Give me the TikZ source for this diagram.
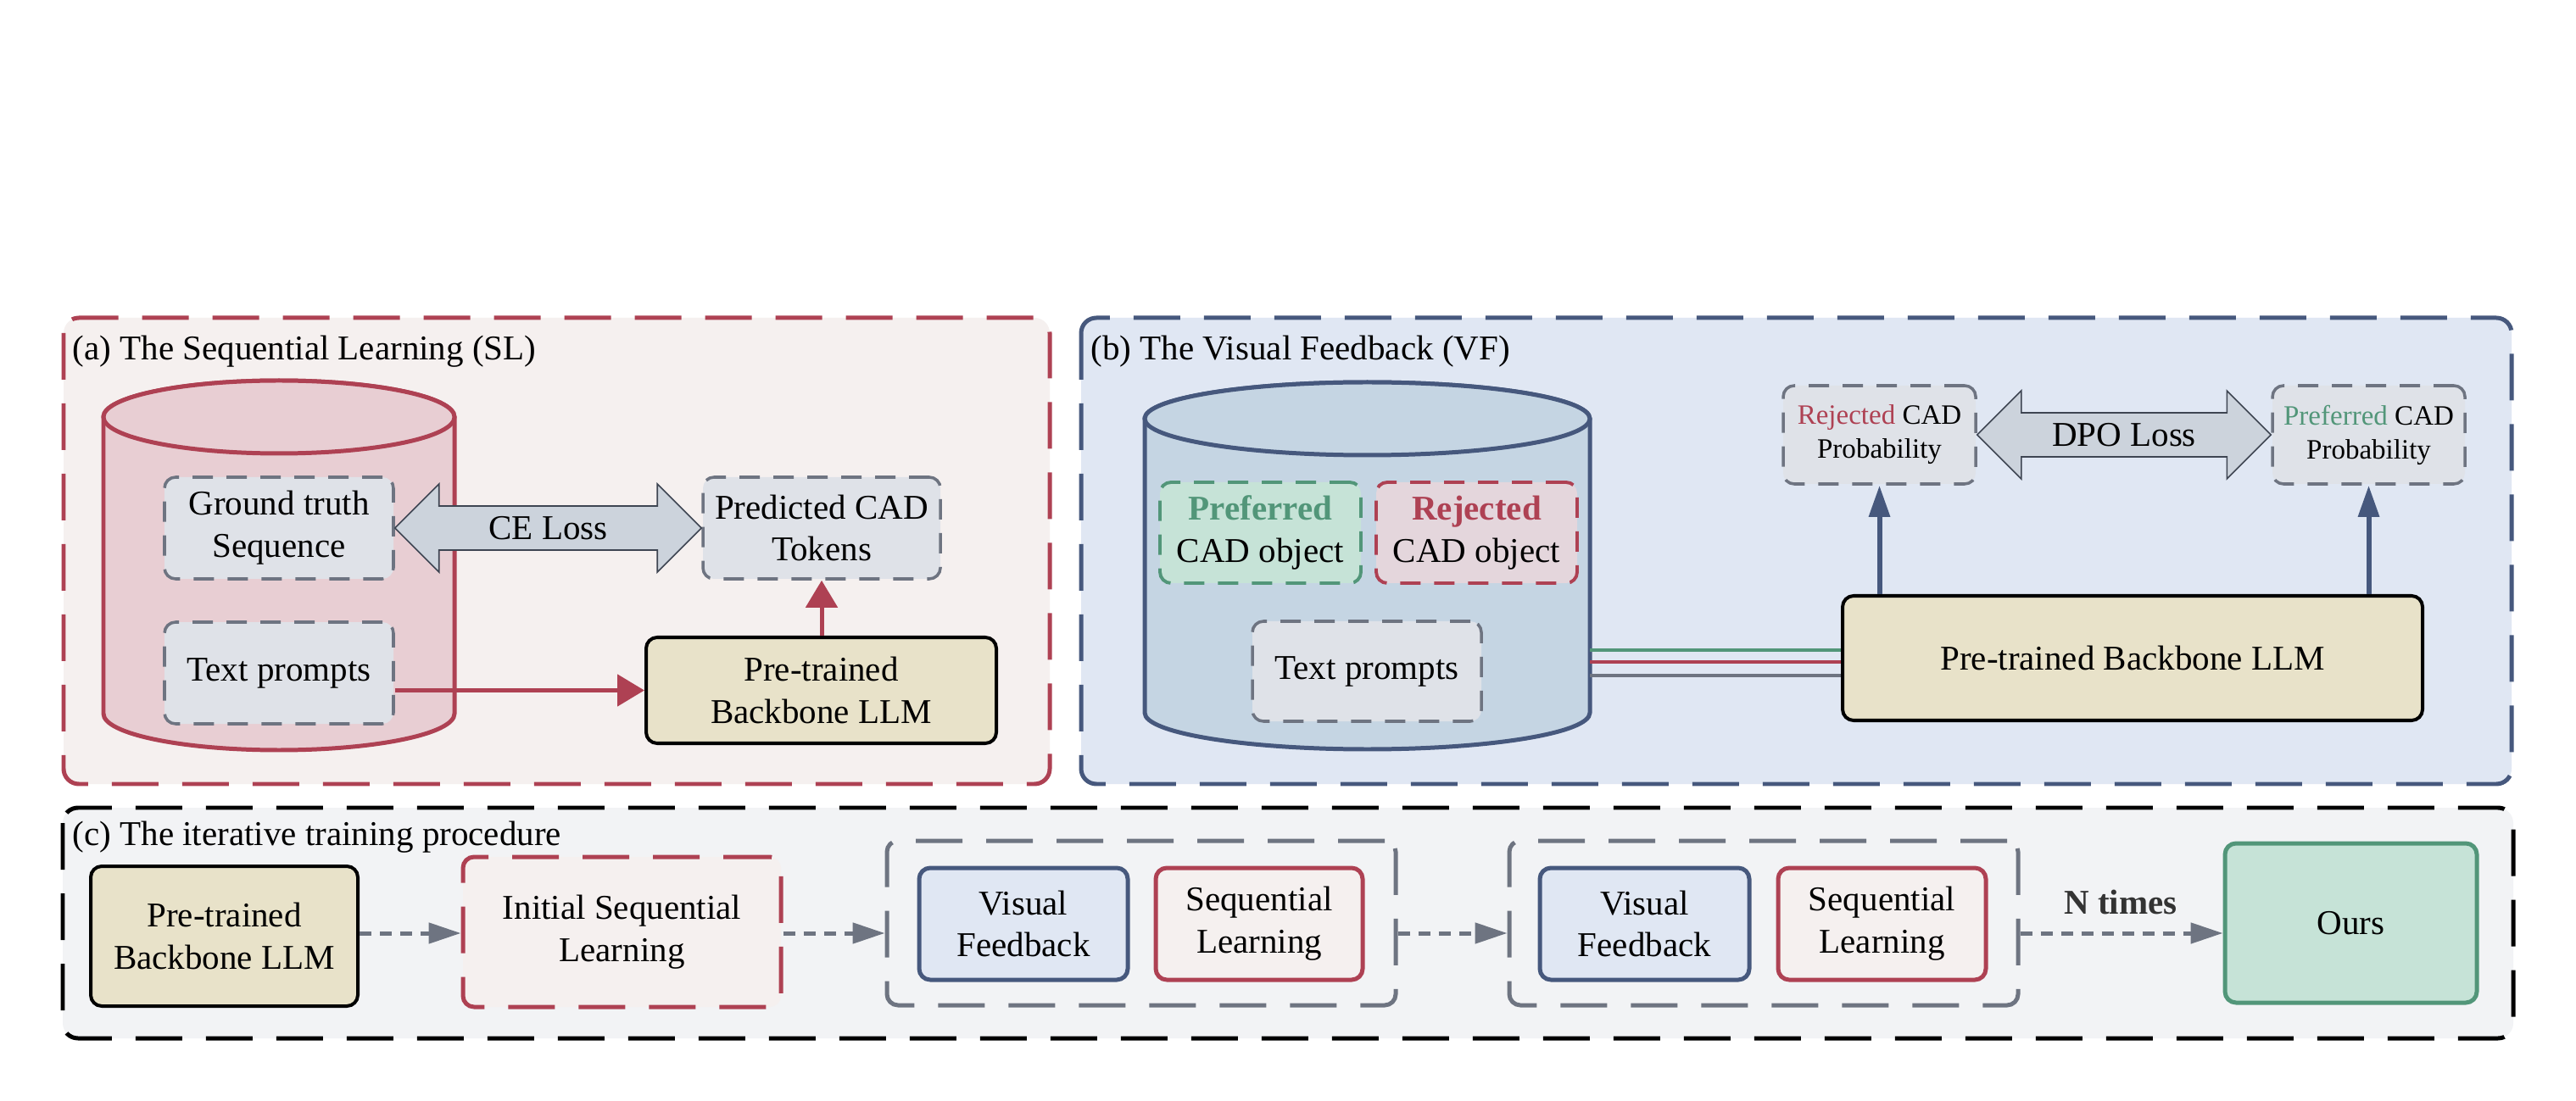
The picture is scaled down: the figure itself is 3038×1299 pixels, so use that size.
\documentclass[tikz,border=0pt]{standalone}
\usepackage{fontspec}
\setmainfont{Liberation Serif}
\usetikzlibrary{arrows.meta,calc}
\definecolor{cred}{HTML}{AE4153}
\definecolor{cgreen}{HTML}{529679}
\definecolor{cblue}{HTML}{46587D}
\definecolor{cgray}{HTML}{6E7481}
\definecolor{cfa}{HTML}{F5F0EF}
\definecolor{ccyla}{HTML}{E8CED3}
\definecolor{cgrayfill}{HTML}{DFE2E8}
\definecolor{cfb}{HTML}{E0E7F3}
\definecolor{ccylb}{HTML}{C5D5E3}
\definecolor{cllm}{HTML}{E8E2C9}
\definecolor{cgreenfill}{HTML}{C6E3D7}
\definecolor{crejfill}{HTML}{E4D6DC}
\definecolor{carrowf}{HTML}{CCD3DC}
\definecolor{carrowd}{HTML}{3E4552}
\definecolor{cfc}{HTML}{F2F3F5}
\definecolor{cntimes}{HTML}{333333}
\newcommand\mainfs{\fontsize{11.67pt}{14.2pt}\selectfont}
\newcommand\smallfs{\fontsize{9.4pt}{11.4pt}\selectfont}
\begin{document}
\begin{tikzpicture}[x=0.1mm,y=0.1mm,
  frame/.style={line width=1.42pt, dash pattern=on 5.5mm off 2.8mm, rounded corners=1.8mm},
  title/.style={anchor=base west, font=\mainfs, inner sep=0pt},
  basebox/.style={align=center, inner sep=0pt, font=\mainfs, rounded corners=1.3mm},
  graybox/.style={basebox, draw=cgray, fill=cgrayfill, line width=1pt, dash pattern=on 2.4mm off 1.6mm},
  greenbox/.style={basebox, draw=cgreen, fill=cgreenfill, line width=1.1pt, dash pattern=on 2.4mm off 1.6mm},
  rejbox/.style={basebox, draw=cred, fill=crejfill, line width=1.1pt, dash pattern=on 2.4mm off 1.6mm},
  llmbox/.style={basebox, draw=black, fill=cllm, line width=1.14pt},
  cyla/.style={draw=cred, fill=ccyla, line width=1.42pt},
  cylb/.style={draw=cblue, fill=ccylb, line width=1.42pt},
  blockarrow/.style={draw=carrowd, fill=carrowf, line width=0.45pt, line join=miter},
  redarrow/.style={draw=cred, line width=1.42pt, -{Triangle[length=3.2mm, width=3.7mm]}},
  bluearrow/.style={draw=cblue, line width=1.7pt, -{Triangle[length=3.7mm, width=2.4mm]}},
  garrow/.style={draw=cgray, line width=1.42pt, dash pattern=on 1.4mm off 1.0mm, -{Triangle[length=3.8mm, width=2.4mm]}},
  vfbox/.style={basebox, draw=cblue, fill=cfb, line width=1.42pt},
  slbox/.style={basebox, draw=cred, fill=cfa, line width=1.42pt},
  groupbox/.style={basebox, draw=cgray, line width=1.42pt, dash pattern=on 5.5mm off 2.8mm},
  connline/.style={line width=1.42pt}
]
\useasboundingbox (0,0) rectangle (3038,-1299);
\fill[white] (0,0) rectangle (3038,-1299);

% ---------- frames ----------
\draw[frame, draw=cred, fill=cfa] (75,-375) rectangle (1238,-925);
\draw[frame, draw=cblue, fill=cfb] (1275,-375) rectangle (2962,-925);
\draw[frame, draw=black, fill=cfc] (74,-953) rectangle (2964,-1225);
\node[title] (ta) at (85,-425) {(a) The Sequential Learning (SL)};
\node[title] (tb) at (1286,-425) {(b) The Visual Feedback (VF)};
\node[title] (tc) at (85,-997) {(c) The iterative training procedure};

% ---------- (a) ----------
\draw[cyla] (122,-492) -- (122,-842) arc[start angle=180, end angle=360, x radius=20.7mm, y radius=4.3mm]
  -- (536,-492) arc[start angle=0, end angle=180, x radius=20.7mm, y radius=4.3mm] -- cycle;
\draw[cyla] (329,-492) ellipse [x radius=20.7mm, y radius=4.3mm];

\node[graybox, minimum width=27mm, minimum height=12mm] (gta) at (329,-623) {Ground truth\\Sequence};
\node[graybox, minimum width=27mm, minimum height=12mm] (tpa) at (329,-794) {Text prompts};
\node[graybox, minimum width=28mm, minimum height=12mm] (pred) at (969,-623) {Predicted CAD\\Tokens};
\node[llmbox, minimum width=41.3mm, minimum height=12.5mm] (llma) at (968.5,-814.5) {Pre-trained\\Backbone LLM};

\draw[blockarrow] (gta.east) -- ($(gta.east)+(52,52)$) -- ($(gta.east)+(52,26)$)
  -- ($(pred.west)+(-52,26)$) -- ($(pred.west)+(-52,52)$) -- (pred.west)
  -- ($(pred.west)+(-52,-52)$) -- ($(pred.west)+(-52,-26)$)
  -- ($(gta.east)+(52,-26)$) -- ($(gta.east)+(52,-52)$) -- cycle;
\node[font=\mainfs, inner sep=0pt] (cel) at ($(gta.east)!0.5!(pred.west)$) {CE Loss};

\draw[redarrow] (tpa.east |- llma.west) -- (llma.west);
\draw[redarrow] (pred.south |- llma.north) -- (pred.south);

% ---------- (b) ----------
\draw[cylb] (1350,-494) -- (1350,-841) arc[start angle=180, end angle=360, x radius=26.25mm, y radius=4.3mm]
  -- (1875,-494) arc[start angle=0, end angle=180, x radius=26.25mm, y radius=4.3mm] -- cycle;
\draw[cylb] (1612.5,-494) ellipse [x radius=26.25mm, y radius=4.3mm];

\node[greenbox, minimum width=23.7mm, minimum height=11.9mm] (prefo) at (1486.5,-628.5) {\textcolor{cgreen}{\textbf{Preferred}}\\CAD object};
\node[rejbox, minimum width=23.7mm, minimum height=11.9mm] (rejo) at (1741.5,-628.5) {\textcolor{cred}{\textbf{Rejected}}\\CAD object};
\node[graybox, minimum width=27mm, minimum height=11.8mm] (tpb) at (1612,-792) {Text prompts};

\node[graybox, font=\smallfs, minimum width=22.7mm, minimum height=11.6mm] (rejp) at (2216.5,-513) {\textcolor{cred}{Rejected} CAD\\Probability};
\node[graybox, font=\smallfs, minimum width=22.7mm, minimum height=11.6mm] (prefp) at (2793.5,-513) {\textcolor{cgreen}{Preferred} CAD\\Probability};
\node[llmbox, minimum width=68.4mm, minimum height=14.7mm] (llmb) at (2515,-776.5) {Pre-trained Backbone LLM};

\draw[blockarrow] (rejp.east) -- ($(rejp.east)+(52,52)$) -- ($(rejp.east)+(52,26)$)
  -- ($(prefp.west)+(-52,26)$) -- ($(prefp.west)+(-52,52)$) -- (prefp.west)
  -- ($(prefp.west)+(-52,-52)$) -- ($(prefp.west)+(-52,-26)$)
  -- ($(rejp.east)+(52,-26)$) -- ($(rejp.east)+(52,-52)$) -- cycle;
\node[font=\mainfs, inner sep=0pt] (dpol) at ($(rejp.east)!0.5!(prefp.west)$) {DPO Loss};

\draw[bluearrow] (rejp.south |- llmb.north) -- (rejp.south);
\draw[bluearrow] (prefp.south |- llmb.north) -- (prefp.south);

\coordinate (ly1) at (1875,-767);
\coordinate (ly2) at (1875,-781);
\coordinate (ly3) at (1875,-797);
\draw[connline, cgreen] (ly1) -- (llmb.west |- ly1);
\draw[connline, cred] (ly2) -- (llmb.west |- ly2);
\draw[connline, cgray] (ly3) -- (llmb.west |- ly3);

% ---------- (c) ----------
\node[llmbox, minimum width=31.5mm, minimum height=16.5mm] (llmc) at (264.5,-1104.5) {Pre-trained\\Backbone LLM};
\node[basebox, draw=cred, fill=cfa, line width=1.42pt, dash pattern=on 5.5mm off 2.8mm, minimum width=37.5mm, minimum height=17.7mm] (isl) at (733.5,-1099.5) {Initial Sequential\\Learning};
\node[groupbox, minimum width=60mm, minimum height=19.4mm] (g1) at (1346,-1089) {};
\node[vfbox, minimum width=24.6mm, minimum height=13.2mm] (vf1) at (1207,-1090) {Visual\\Feedback};
\node[slbox, minimum width=24.4mm, minimum height=13.2mm] (sl1) at (1485,-1090) {Sequential\\Learning};
\node[groupbox, minimum width=60mm, minimum height=19.4mm] (g2) at (2080,-1089) {};
\node[vfbox, minimum width=24.7mm, minimum height=13.2mm] (vf2) at (1939.5,-1090) {Visual\\Feedback};
\node[slbox, minimum width=24.5mm, minimum height=13.2mm] (sl2) at (2219.5,-1090) {Sequential\\Learning};
\node[basebox, draw=cgreen, fill=cgreenfill, line width=1.42pt, minimum width=29.7mm, minimum height=18.8mm] (ours) at (2772.5,-1089) {Ours};

\coordinate (ay) at (0,-1101);
\draw[garrow] (llmc.east |- ay) -- (isl.west |- ay);
\draw[garrow] (isl.east |- ay) -- (g1.west |- ay);
\draw[garrow] (g1.east |- ay) -- (g2.west |- ay);
\draw[garrow] (g2.east |- ay) -- (ours.west |- ay);
\node[anchor=base, font=\mainfs\bfseries, text=cntimes, inner sep=0pt] (nt) at (2501,-1078) {N times};
\end{tikzpicture}
\end{document}
